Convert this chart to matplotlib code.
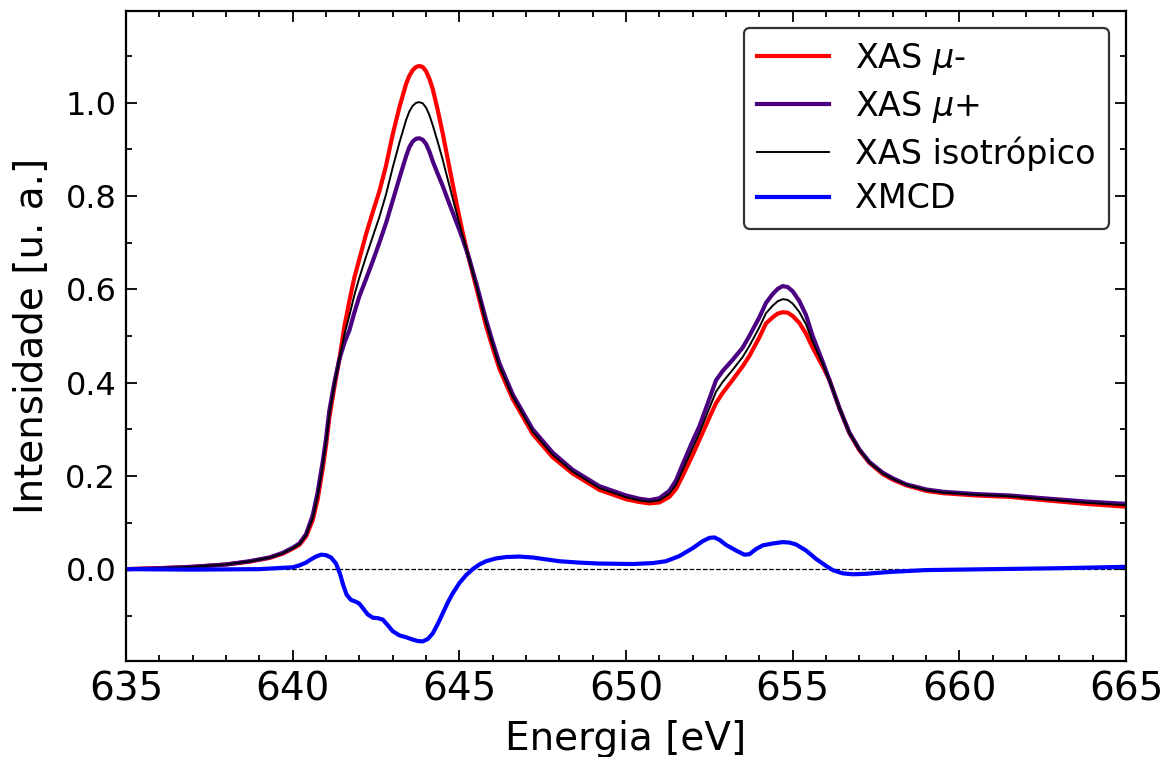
import matplotlib
matplotlib.use("Agg")
import matplotlib.pyplot as plt
from matplotlib.ticker import MultipleLocator

# ---- data ----
energy = [635.0, 636.0, 637.0, 638.0, 638.7, 639.3, 639.7, 640.0, 640.2, 640.4,
          640.6, 640.75, 640.9, 641.0, 641.1, 641.25, 641.4, 641.55, 641.7, 641.85,
          642.0, 642.2, 642.4, 642.6, 642.8, 643.0, 643.2, 643.4, 643.5, 643.6,
          643.7, 643.8, 643.9, 644.0, 644.1, 644.2, 644.35, 644.5, 644.65, 644.8,
          644.95, 645.1, 645.3, 645.5, 645.8, 646.0, 646.2, 646.6, 647.2, 647.8,
          648.4, 649.2, 650.0, 650.4, 650.7, 651.0, 651.3, 651.5, 651.7, 652.0,
          652.2, 652.5, 652.7, 652.9, 653.2, 653.5, 653.7, 654.0, 654.2, 654.4,
          654.55, 654.7, 654.85, 655.0, 655.2, 655.4, 655.6, 655.9, 656.1, 656.4,
          656.7, 657.0, 657.3, 657.7, 658.0, 658.4, 659.0, 659.5, 660.5, 661.5,
          662.7, 663.8, 665.0]

xas_mu_minus = [0.000, 0.002, 0.005, 0.010, 0.016, 0.024, 0.033, 0.044, 0.052, 0.070,
                0.105, 0.150, 0.215, 0.265, 0.325, 0.390, 0.450, 0.520, 0.575, 0.625,
                0.665, 0.718, 0.765, 0.810, 0.865, 0.932, 0.990, 1.040, 1.058, 1.070,
                1.077, 1.079, 1.077, 1.068, 1.052, 1.030, 0.985, 0.935, 0.880, 0.826,
                0.772, 0.722, 0.662, 0.606, 0.522, 0.475, 0.430, 0.365, 0.290, 0.240,
                0.205, 0.170, 0.150, 0.144, 0.141, 0.143, 0.155, 0.172, 0.200, 0.245,
                0.277, 0.325, 0.356, 0.378, 0.406, 0.435, 0.457, 0.497, 0.527, 0.540,
                0.548, 0.551, 0.550, 0.543, 0.528, 0.505, 0.475, 0.435, 0.406, 0.345,
                0.292, 0.255, 0.228, 0.204, 0.192, 0.180, 0.168, 0.163, 0.158, 0.155,
                0.147, 0.140, 0.134]

xas_mu_plus = [0.000, 0.002, 0.005, 0.010, 0.017, 0.025, 0.035, 0.046, 0.055, 0.075,
               0.115, 0.165, 0.230, 0.280, 0.340, 0.400, 0.450, 0.485, 0.512, 0.550,
               0.585, 0.622, 0.660, 0.700, 0.742, 0.790, 0.838, 0.885, 0.905, 0.917,
               0.923, 0.924, 0.921, 0.912, 0.896, 0.875, 0.848, 0.822, 0.793, 0.765,
               0.737, 0.708, 0.665, 0.615, 0.535, 0.487, 0.442, 0.375, 0.300, 0.250,
               0.213, 0.178, 0.158, 0.151, 0.148, 0.152, 0.168, 0.190, 0.225, 0.275,
               0.306, 0.365, 0.405, 0.425, 0.449, 0.475, 0.500, 0.540, 0.571, 0.590,
               0.601, 0.607, 0.605, 0.596, 0.575, 0.545, 0.500, 0.445, 0.406, 0.346,
               0.293, 0.257, 0.230, 0.207, 0.195, 0.182, 0.171, 0.166, 0.161, 0.158,
               0.151, 0.145, 0.140]

xas_iso = [0.000, 0.002, 0.005, 0.010, 0.0165, 0.0245, 0.034, 0.045, 0.0535, 0.0725,
           0.110, 0.1575, 0.2225, 0.2725, 0.3325, 0.395, 0.450, 0.5025, 0.5435, 0.5875,
           0.625, 0.670, 0.7125, 0.755, 0.8035, 0.861, 0.914, 0.9625, 0.9815, 0.9935,
           1.000, 1.0015, 0.999, 0.990, 0.974, 0.9525, 0.9165, 0.8785, 0.8365, 0.7955,
           0.7545, 0.715, 0.6635, 0.6105, 0.5285, 0.481, 0.436, 0.370, 0.295, 0.245,
           0.209, 0.174, 0.154, 0.1475, 0.1445, 0.1475, 0.1615, 0.181, 0.2125, 0.260,
           0.2915, 0.345, 0.3805, 0.4015, 0.4275, 0.455, 0.4785, 0.5185, 0.549, 0.565,
           0.5745, 0.579, 0.5775, 0.5695, 0.5515, 0.525, 0.4875, 0.440, 0.406, 0.3455,
           0.2925, 0.256, 0.229, 0.2055, 0.1935, 0.181, 0.1695, 0.1645, 0.1595, 0.1565,
           0.149, 0.1425, 0.137]

energy_xmcd = [635.0, 637.0, 639.0, 640.0, 640.2, 640.4, 640.55, 640.7, 640.85, 641.0,
               641.15, 641.3, 641.42, 641.52, 641.62, 641.75, 641.9, 642.0, 642.1, 642.25,
               642.4, 642.55, 642.7, 642.85, 643.0, 643.2, 643.4, 643.6, 643.75, 643.9,
               644.05, 644.2, 644.35, 644.5, 644.65, 644.8, 645.0, 645.2, 645.4, 645.6,
               645.8, 646.1, 646.4, 646.8, 647.2, 647.6, 648.0, 648.6, 649.2, 650.2,
               650.8, 651.2, 651.6, 652.0, 652.3, 652.5, 652.65, 652.8, 653.0, 653.3,
               653.55, 653.7, 653.9, 654.1, 654.4, 654.7, 654.9, 655.1, 655.4, 655.7,
               656.0, 656.2, 656.5, 656.8, 657.2, 657.9, 659.0, 661.0, 663.0, 665.0]

xmcd = [0.000, -0.001, 0.000, 0.004, 0.008, 0.014, 0.021, 0.027, 0.031, 0.030,
        0.025, 0.012, -0.010, -0.035, -0.055, -0.066, -0.070, -0.074, -0.083, -0.097,
        -0.104, -0.105, -0.108, -0.120, -0.133, -0.142, -0.146, -0.151, -0.154, -0.155,
        -0.150, -0.138, -0.118, -0.095, -0.072, -0.052, -0.030, -0.013, 0.000, 0.010,
        0.017, 0.023, 0.026, 0.027, 0.025, 0.021, 0.017, 0.014, 0.012, 0.011,
        0.013, 0.017, 0.028, 0.045, 0.060, 0.067, 0.068, 0.063, 0.052, 0.040,
        0.031, 0.032, 0.043, 0.051, 0.055, 0.058, 0.057, 0.053, 0.040, 0.022,
        0.007, -0.002, -0.009, -0.011, -0.010, -0.006, -0.002, 0.000, 0.002, 0.005]

labels = [r"XAS $\mu$-", r"XAS $\mu$+", "XAS isotrópico", "XMCD"]

# ---- figure ----
fig = plt.figure(figsize=(11.70, 7.57), dpi=100)
ax = fig.add_axes([0.1077, 0.1268, 0.8547, 0.8587])

ax.plot(energy, xas_mu_minus, color="red", lw=3.0, label=labels[0], solid_joinstyle="round")
ax.plot(energy, xas_mu_plus, color="#4B0082", lw=3.0, label=labels[1], solid_joinstyle="round")
ax.plot(energy, xas_iso, color="black", lw=1.4, label=labels[2], solid_joinstyle="round")
ax.plot(energy_xmcd, xmcd, color="blue", lw=3.0, label=labels[3], solid_joinstyle="round")
ax.axhline(0.0, color="black", lw=0.9, ls="--", zorder=1)

ax.set_xlim(635, 665)
ax.set_ylim(-0.197, 1.197)
ax.xaxis.set_major_locator(MultipleLocator(5))
ax.xaxis.set_minor_locator(MultipleLocator(1))
ax.yaxis.set_major_locator(MultipleLocator(0.2))
ax.yaxis.set_minor_locator(MultipleLocator(0.1))
ax.tick_params(which="both", direction="in", top=True, right=True, width=1.3)
ax.tick_params(which="major", length=8)
ax.tick_params(which="minor", length=4.5)
ax.tick_params(axis="x", which="major", labelsize=28, pad=7)
ax.tick_params(axis="y", which="major", labelsize=23, pad=7)
for s in ax.spines.values():
    s.set_linewidth(1.6)

ax.set_xlabel("Energia [eV]", fontsize=28, labelpad=8)
ax.set_ylabel("Intensidade [u. a.]", fontsize=28, labelpad=10)

leg = ax.legend(loc="upper right", fontsize=24, frameon=True, fancybox=True,
                framealpha=1, edgecolor="0.2", borderpad=0.4, handlelength=2.15,
                labelspacing=0.35)
leg.get_frame().set_linewidth(1.6)

fig.savefig("out.png", dpi=100)
